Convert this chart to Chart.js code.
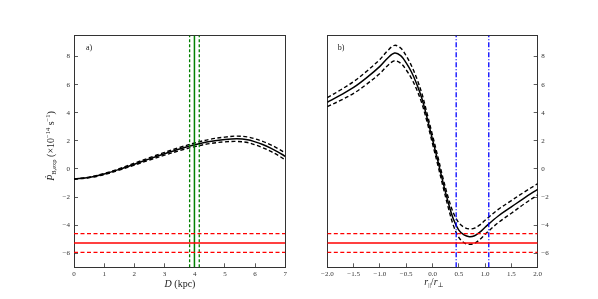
<!DOCTYPE html>
<html>
<head>
<meta charset="utf-8">
<script src="https://cdn.jsdelivr.net/npm/chart.js@4.4.0/dist/chart.umd.min.js"></script>
<style>
  html, body { margin: 0; padding: 0; background: #fff; }
  #wrap { position: relative; width: 598px; height: 299px; }
  #wrap canvas { position: absolute; top: 0; }
</style>
</head>
<body>
<div id="wrap">
  <canvas id="chartA" width="300" height="299" style="left:0"></canvas>
  <canvas id="chartB" width="298" height="299" style="left:300px"></canvas>
</div>
<script>
// panel a) : spin-down contribution vs distance
const distKpc = [0, 0.5, 1, 1.5, 2, 2.5, 3, 3.5, 4, 4.5, 5, 5.4, 5.75, 6, 6.25, 6.5, 6.75, 7];
const pdotA = [-0.72, -0.6, -0.36, -0.03, 0.34, 0.72, 1.08, 1.42, 1.72, 1.96, 2.1, 2.15, 2.08, 1.93, 1.74, 1.5, 1.22, 0.9];
const pdotAUp = [-0.72, -0.58, -0.32, 0.02, 0.41, 0.8, 1.18, 1.53, 1.85, 2.11, 2.27, 2.34, 2.28, 2.14, 1.96, 1.73, 1.46, 1.15];
const pdotALo = [-0.72, -0.62, -0.4, -0.08, 0.27, 0.64, 0.98, 1.31, 1.59, 1.81, 1.93, 1.96, 1.88, 1.72, 1.52, 1.27, 0.98, 0.65];
const distLines = [3.83, 3.99, 4.15];   // lower, best, upper

// panel b) : vs r_par / r_perp
const rRatio = [-2, -1.75, -1.5, -1.25, -1, -0.85, -0.72, -0.6, -0.5, -0.4, -0.3, -0.2, -0.1, 0, 0.1, 0.2, 0.3, 0.4, 0.5, 0.6, 0.7, 0.8, 0.9, 1.0, 1.25, 1.5, 1.75, 2];
const pdotB = [4.75, 5.25, 5.8, 6.5, 7.3, 7.9, 8.25, 8.05, 7.55, 6.9, 6.05, 5.0, 3.6, 2.1, 0.6, -0.95, -2.4, -3.6, -4.35, -4.7, -4.82, -4.75, -4.5, -4.15, -3.35, -2.7, -2.05, -1.45];
const pdotBUp = [5.07, 5.62, 6.22, 6.96, 7.8, 8.43, 8.8, 8.59, 8.05, 7.35, 6.45, 5.35, 3.9, 2.4, 0.9, -0.65, -2.05, -3.15, -3.83, -4.15, -4.27, -4.21, -3.98, -3.65, -2.88, -2.25, -1.63, -1.05];
const pdotBLo = [4.43, 4.88, 5.38, 6.04, 6.8, 7.37, 7.7, 7.51, 7.05, 6.45, 5.65, 4.65, 3.3, 1.8, 0.3, -1.25, -2.75, -4.05, -4.87, -5.25, -5.37, -5.29, -5.02, -4.65, -3.82, -3.15, -2.47, -1.85];
const ratioLines = [0.45, 1.07];

// observed value and its error band (both panels)
const obsLines = [-4.6, -5.27, -5.94];

const yTicks = [-6, -4, -2, 0, 2, 4, 6, 8];
const xTicksA = [0, 1, 2, 3, 4, 5, 6, 7];
const xTicksB = [-2, -1.5, -1, -0.5, 0, 0.5, 1, 1.5, 2];
const Y_MIN = -7, Y_MAX = 9.5;

const SERIF = '"Liberation Serif", "DejaVu Serif", serif';
const FRAME = '#333';

function pts(xs, ys) {
  return xs.map((x, i) => ({ x: x, y: ys[i] }));
}
function minus(v, digits) {
  const s = digits ? Math.abs(v).toFixed(digits) : String(Math.abs(v));
  return (v < 0 ? '\u2212' : '') + s;
}

function curve(xs, ys, dashed) {
  return {
    data: pts(xs, ys), borderColor: '#000', borderWidth: dashed ? 1.4 : 1.5,
    borderDash: dashed ? [4, 2.5] : [], pointRadius: 0,
    tension: 0.35, fill: false
  };
}
function vline(x, color, dash, w) {
  return {
    data: [{ x: x, y: Y_MIN }, { x: x, y: Y_MAX }], borderColor: color,
    borderWidth: w, borderDash: dash, pointRadius: 0, fill: false
  };
}
function hline(y, xmin, xmax, dash) {
  return {
    data: [{ x: xmin, y: y }, { x: xmax, y: y }], borderColor: '#ff0000',
    borderWidth: 1.4, borderDash: dash, pointRadius: 0, fill: false
  };
}

function drawRich(ctx, parts, x, y, rot) {
  ctx.save();
  ctx.translate(x, y);
  if (rot) ctx.rotate(-Math.PI / 2);
  const fontOf = p => (p.it ? 'italic ' : '') + (p.size || 10) + 'px ' + SERIF;
  let total = 0;
  parts.forEach(p => { ctx.font = fontOf(p); p.w = ctx.measureText(p.t).width; total += p.w; });
  let cx = -total / 2;
  ctx.fillStyle = '#222';
  ctx.textBaseline = 'alphabetic';
  ctx.textAlign = 'left';
  parts.forEach(p => { ctx.font = fontOf(p); ctx.fillText(p.t, cx, p.dy || 0); cx += p.w; });
  ctx.restore();
}

function axis(pos, min, max, tickVals, size, showLabels, fmt, pad) {
  const horiz = pos === 'top' || pos === 'bottom';
  return {
    type: 'linear', position: pos, min: min, max: max,
    afterBuildTicks: s => { s.ticks = tickVals.map(v => ({ value: v })); },
    afterFit: s => { if (horiz) s.height = size; else s.width = size; },
    grid: { drawOnChartArea: false, tickLength: -4, color: FRAME, lineWidth: 0.8 },
    border: { display: true, color: FRAME, width: 1 },
    ticks: {
      display: showLabels, padding: pad, autoSkip: false, maxRotation: 0,
      color: '#333', font: { family: SERIF, size: 7 }, callback: fmt
    }
  };
}

function makePanel(id, cfg) {
  return new Chart(document.getElementById(id), {
    type: 'line',
    data: { datasets: cfg.datasets },
    options: {
      responsive: false, animation: false, devicePixelRatio: 1,
      layout: { padding: 0 },
      plugins: { legend: { display: false }, tooltip: { enabled: false } },
      scales: cfg.scales
    },
    plugins: [{
      id: 'texts',
      afterDraw(chart) { cfg.texts.forEach(t => drawRich(chart.ctx, t.parts, t.x, t.y, t.rot)); }
    }]
  });
}

const yFmt = v => minus(v);

// ---- panel a)
makePanel('chartA', {
  datasets: [
    hline(obsLines[0], 0, 7, [4, 2.5]),
    hline(obsLines[1], 0, 7, []),
    hline(obsLines[2], 0, 7, [4, 2.5]),
    vline(distLines[0], '#008000', [3, 2], 1.3),
    vline(distLines[1], '#008000', [], 1.5),
    vline(distLines[2], '#008000', [3, 2], 1.3),
    curve(distKpc, pdotAUp, true),
    curve(distKpc, pdotA, false),
    curve(distKpc, pdotALo, true)
  ],
  scales: {
    x: axis('bottom', 0, 7, xTicksA, 31.7, true, v => String(v), 7),
    x2: axis('top', 0, 7, xTicksA, 35.5, false, null, 0),
    y: axis('left', Y_MIN, Y_MAX, yTicks, 74, true, yFmt, 8),
    y2: axis('right', Y_MIN, Y_MAX, yTicks, 14.7, false, null, 0)
  },
  texts: [
    { x: 89, y: 50, parts: [{ t: 'a)', size: 8 }] },
    { x: 180, y: 287, parts: [{ t: 'D', it: true, size: 10 }, { t: ' (kpc)', size: 10 }] },
    {
      x: 54, y: 146, rot: true, parts: [
        { t: '\u1E56', it: true, size: 10 }, { t: 'B,exp', size: 6.5, dy: 2 },
        { t: ' (\u00D710', size: 10 }, { t: '\u221214', size: 6.5, dy: -4 },
        { t: ' s', size: 10 }, { t: '\u22121', size: 6.5, dy: -4 }, { t: ')', size: 10 }
      ]
    }
  ]
});

// ---- panel b)
makePanel('chartB', {
  datasets: [
    hline(obsLines[0], -2, 2, [4, 2.5]),
    hline(obsLines[1], -2, 2, []),
    hline(obsLines[2], -2, 2, [4, 2.5]),
    vline(ratioLines[0], '#0000ff', [5, 2, 1, 2], 1.3),
    vline(ratioLines[1], '#0000ff', [5, 2, 1, 2], 1.3),
    curve(rRatio, pdotBUp, true),
    curve(rRatio, pdotB, false),
    curve(rRatio, pdotBLo, true)
  ],
  scales: {
    x: axis('bottom', -2, 2, xTicksB, 31.7, true, v => minus(v, 1), 7),
    x2: axis('top', -2, 2, xTicksB, 35.5, false, null, 0),
    y: axis('left', Y_MIN, Y_MAX, yTicks, 27.3, false, null, 0),
    y2: axis('right', Y_MIN, Y_MAX, yTicks, 60.3, true, yFmt, 7.5)
  },
  texts: [
    { x: 41, y: 50, parts: [{ t: 'b)', size: 8 }] },
    {
      x: 134, y: 285, parts: [
        { t: 'r', it: true, size: 10 }, { t: '||', size: 6.5, dy: 2 },
        { t: '/', size: 10 }, { t: 'r', it: true, size: 10 }, { t: '\u22A5', size: 6.5, dy: 2 }
      ]
    }
  ]
});
</script>
</body>
</html>
